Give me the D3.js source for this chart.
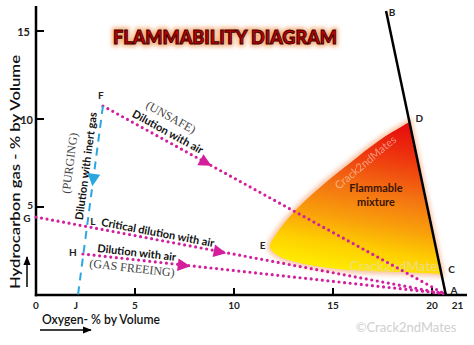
<!DOCTYPE html>
<html><head><meta charset="utf-8">
<script src="https://cdn.jsdelivr.net/npm/d3@7"></script>
<style>body{margin:0;background:#fff}svg{display:block}</style>
</head><body><svg id="c" width="474" height="345"></svg>
<script>
// ---- data ----
const pointNames = ["A","B","C","D","E","F","G","H","J","L"];
const pointO2    = [20.7, 17.68, 20.48, 18.86, 11.8, 3.38, 0, 2.37, 2.12, 2.57];
const pointHC    = [0, 16.14, 1.36, 9.83, 2.75, 10.74, 4.43, 2.33, 0, 3.87];
const xTickValues = [5, 10, 15, 20];
const xTickLabels = ["0", "5", "10", "15", "20", "21"];
const xTickLabelValues = [0, 5, 10, 15, 20, 21];
const yTickValues = [5, 10, 15];
const yTickLabels = ["5", "10", "15"];
// flammable region boundary: C, bottom edge, tip E, upper edge, D
const regionO2 = [20.48, 18.38, 15.86, 13.33, 12.17, 11.82, 12.17, 12.98, 14.19, 15.86, 17.37, 18.86];
const regionHC = [1.19, 1.31, 1.42, 1.82, 2.27, 2.73, 3.52, 4.66, 5.97, 7.50, 8.81, 9.83];
// dilution lines [from, to]
const dottedLines = [["F","A"],["G","A"],["H","A"]];
const purgeLine = ["F","J"];

// ---- setup ----
const svg = d3.select("#c");
const x = d3.scaleLinear().domain([0, 21]).range([36, 451.8]);
const y = d3.scaleLinear().domain([0, 15]).range([295, 31]);
const P = {};
pointNames.forEach((n, i) => P[n] = [x(pointO2[i]), y(pointHC[i])]);

const defs = svg.append("defs");
const grad = defs.append("linearGradient").attr("id", "fg")
  .attr("x1", "0.62").attr("y1", "0").attr("x2", "0.42").attr("y2", "1");
[[0, "#e60f0c"], [0.2, "#ee360e"], [0.45, "#f47412"], [0.65, "#f9a10a"], [0.82, "#fed000"], [1, "#fff000"]]
  .forEach(s => grad.append("stop").attr("offset", s[0]).attr("stop-color", s[1]));
defs.append("filter").attr("id", "blur").attr("x", "-20%").attr("y", "-20%").attr("width", "140%").attr("height", "140%")
  .append("feGaussianBlur").attr("stdDeviation", 2.2);
defs.append("filter").attr("id", "blur2").attr("x", "-20%").attr("y", "-50%").attr("width", "140%").attr("height", "200%")
  .append("feGaussianBlur").attr("stdDeviation", 2);
const mk = defs.append("marker").attr("id", "arr").attr("viewBox", "0 0 10 10").attr("refX", 9).attr("refY", 5)
  .attr("markerWidth", 6).attr("markerHeight", 6).attr("orient", "auto");
mk.append("path").attr("d", "M0,1 L10,5 L0,9 Z").attr("fill", "#000");

const sans = "Lato, 'Open Sans', sans-serif";
const serif = "'Liberation Serif', 'DejaVu Serif', serif";

// ---- title ----
const title = "FLAMMABILITY DIAGRAM";
svg.append("text").attr("x", 113).attr("y", 44).text(title)
  .attr("font-family", sans).attr("font-weight", 900).attr("font-size", 19)
  .attr("textLength", 224).attr("lengthAdjust", "spacingAndGlyphs")
  .attr("fill", "#f4a06a").attr("stroke", "#f6b080").attr("stroke-width", 5).attr("filter", "url(#blur2)");
svg.append("text").attr("x", 113).attr("y", 44).text(title)
  .attr("font-family", sans).attr("font-weight", 900).attr("font-size", 19)
  .attr("textLength", 224).attr("lengthAdjust", "spacingAndGlyphs")
  .attr("fill", "#c40000").attr("stroke", "#3a0000").attr("stroke-width", 1);

// ---- flammable region ----
const regionPts = regionO2.map((v, i) => [x(v), y(regionHC[i])]);
const regionPath = d3.line().curve(d3.curveCatmullRom.alpha(0.5))(regionPts) + "Z";
svg.append("path").attr("d", regionPath).attr("fill", "#f9c49a").attr("stroke", "#f8c2a0")
  .attr("stroke-width", 6).attr("filter", "url(#blur)").attr("opacity", 0.9);
svg.append("path").attr("d", regionPath).attr("fill", "url(#fg)");

// watermarks on region
svg.append("text").attr("transform", "translate(365,162) rotate(-40)")
  .attr("text-anchor", "middle").attr("dominant-baseline", "central")
  .attr("font-family", sans).attr("font-size", 11).attr("fill", "#fff").attr("opacity", 0.45)
  .text("Crack2ndMates");
svg.append("text").attr("x", 396).attr("y", 266)
  .attr("text-anchor", "middle").attr("dominant-baseline", "central")
  .attr("font-family", sans).attr("font-size", 13.5).attr("fill", "#e2dccd").attr("opacity", 0.65)
  .text("Crack2ndMates");
svg.append("text").attr("x", 406).attr("y", 327)
  .attr("text-anchor", "middle").attr("dominant-baseline", "central")
  .attr("font-family", sans).attr("font-size", 13).attr("fill", "#cfcfcf")
  .text("\u00A9Crack2ndMates");

svg.append("text").attr("x", 376).attr("y", 187).attr("text-anchor", "middle")
  .attr("dominant-baseline", "central").attr("font-family", sans).attr("font-weight", 700)
  .attr("font-size", 11).attr("fill", "#3a1505").text("Flammable");
svg.append("text").attr("x", 376).attr("y", 201).attr("text-anchor", "middle")
  .attr("dominant-baseline", "central").attr("font-family", sans).attr("font-weight", 700)
  .attr("font-size", 11).attr("fill", "#3a1505").text("mixture");

// ---- axes ----
const ax = svg.append("g");
ax.append("line").attr("x1", x(0)).attr("x2", x(0)).attr("y1", 6).attr("y2", y(0) + 1.2)
  .attr("stroke", "#000").attr("stroke-width", 2.5);
ax.append("line").attr("x1", x(0) - 1.2).attr("x2", 467).attr("y1", y(0)).attr("y2", y(0))
  .attr("stroke", "#000").attr("stroke-width", 2.5);
ax.selectAll(".xt").data(xTickValues).join("line")
  .attr("x1", d => x(d)).attr("x2", d => x(d)).attr("y1", y(0)).attr("y2", y(0) - 7)
  .attr("stroke", "#000").attr("stroke-width", 2);
ax.selectAll(".yt").data(yTickValues).join("line")
  .attr("x1", x(0)).attr("x2", x(0) + 8).attr("y1", d => y(d)).attr("y2", d => y(d))
  .attr("stroke", "#000").attr("stroke-width", 2);
ax.selectAll(".xl").data(xTickLabelValues).join("text")
  .attr("x", d => x(d)).attr("y", 305)
  .attr("text-anchor", (d, i) => i === xTickLabelValues.length - 1 ? "start" : "middle")
  .attr("dominant-baseline", "central").attr("font-family", sans).attr("font-weight", 700)
  .attr("font-size", 10).attr("fill", "#222").text((d, i) => xTickLabels[i]);
ax.selectAll(".yl").data(yTickValues).join("text")
  .attr("x", d => d === 15 ? x(0) - 6 : x(0) - 3).attr("y", d => d === 5 ? y(d) - 2 : y(d))
  .attr("text-anchor", "end").attr("dominant-baseline", "central")
  .attr("font-family", sans).attr("font-weight", 700).attr("font-size", d => d === 5 ? 10 : 11)
  .attr("fill", "#222").text((d, i) => yTickLabels[i]);

// axis titles
svg.append("text").attr("transform", "translate(20,172) rotate(-90)")
  .attr("text-anchor", "middle").attr("font-family", sans).attr("font-weight", 600)
  .attr("font-size", 14).attr("textLength", 234).attr("lengthAdjust", "spacingAndGlyphs")
  .attr("fill", "#111").text("Hydrocarbon gas - % by Volume");
svg.append("line").attr("x1", 27).attr("x2", 27).attr("y1", 287).attr("y2", 257)
  .attr("stroke", "#000").attr("stroke-width", 1.5).attr("marker-end", "url(#arr)");
svg.append("text").attr("x", 42).attr("y", 324)
  .attr("font-family", sans).attr("font-weight", 600).attr("font-size", 13)
  .attr("textLength", 118).attr("lengthAdjust", "spacingAndGlyphs")
  .attr("fill", "#111").text("Oxygen- % by Volume");
svg.append("line").attr("x1", 40).attr("x2", 91).attr("y1", 330).attr("y2", 330)
  .attr("stroke", "#000").attr("stroke-width", 1.5).attr("marker-end", "url(#arr)");

// ---- lines ----
const magenta = "#d41f9c";
const blue = "#2ba7e0";
dottedLines.forEach(([a, b]) => {
  svg.append("line").attr("x1", P[a][0]).attr("y1", P[a][1]).attr("x2", P[b][0] - 2).attr("y2", P[b][1] - 1.5)
    .attr("stroke", magenta).attr("stroke-width", 3.2).attr("stroke-linecap", "round")
    .attr("stroke-dasharray", "0 5.6");
});
svg.append("line").attr("x1", P[purgeLine[0]][0]).attr("y1", P[purgeLine[0]][1])
  .attr("x2", P[purgeLine[1]][0]).attr("y2", P[purgeLine[1]][1])
  .attr("stroke", blue).attr("stroke-width", 2).attr("stroke-dasharray", "8 6");

// black flammability limit line B-A
svg.append("line").attr("x1", P.B[0]).attr("y1", P.B[1]).attr("x2", P.A[0]).attr("y2", P.A[1])
  .attr("stroke", "#000").attr("stroke-width", 2.5);

// helpers along lines
function along(a, b, t, d) {
  const dx = P[b][0] - P[a][0], dy = P[b][1] - P[a][1];
  const L = Math.hypot(dx, dy), ux = dx / L, uy = dy / L;
  const nx = uy, ny = -ux;
  return { x: P[a][0] + dx * t + nx * d, y: P[a][1] + dy * t + ny * d, ang: Math.atan2(dy, dx) * 180 / Math.PI };
}

// arrow triangles
const tri = d3.symbol(d3.symbolTriangle).size(70)();
[["F","A",0.295,magenta],["G","A",0.444,magenta],["H","A",0.273,magenta],["F","J",0.381,blue]].forEach(([a,b,t,c]) => {
  const p = along(a, b, t, 0);
  svg.append("path").attr("d", tri).attr("fill", c)
    .attr("transform", `translate(${p.x},${p.y}) rotate(${p.ang + 90}) scale(1,1.15)`);
});

// annotations
const annotations = [
  ["F","A",0.166,23,"(UNSAFE)","serif",0],
  ["F","A",0.177,9.3,"Dilution with air","bold",0],
  ["F","J",0.324,-9.5,"Dilution with inert gas","bold",180],
  ["F","J",0.32,-25.5,"(PURGING)","serif",180],
  ["G","A",0.294,8.1,"Critical dilution with air","bold",0],
  ["H","A",0.146,8,"Dilution with air","bold",0],
  ["H","A",0.138,-8.4,"(GAS FREEING)","serif",0]
];
annotations.forEach(([a,b,t,d,txt,st,flip]) => {
  const p = along(a, b, t, d);
  svg.append("text").attr("transform", `translate(${p.x},${p.y}) rotate(${p.ang - flip})`)
    .attr("text-anchor", "middle").attr("dominant-baseline", "central")
    .attr("font-family", st === "serif" ? serif : sans)
    .attr("font-weight", st === "serif" ? 400 : 700)
    .attr("font-size", st === "serif" ? 12 : 11)
    .attr("fill", st === "serif" ? "#444" : "#111")
    .text(txt);
});

// point labels
const labelOffset = {A:[8,-5],B:[6,1],C:[10,-2],D:[10,-4],E:[-7,-2],F:[-2,-11],G:[-9,1],H:[-10,-2],J:[-2,10],L:[6,-6]};
svg.selectAll(".pl").data(pointNames).join("text")
  .attr("x", n => P[n][0] + labelOffset[n][0]).attr("y", n => P[n][1] + labelOffset[n][1])
  .attr("text-anchor", "middle").attr("dominant-baseline", "central")
  .attr("font-family", sans).attr("font-weight", 700).attr("font-size", 10).attr("fill", "#222")
  .text(n => n);
</script></body></html>
